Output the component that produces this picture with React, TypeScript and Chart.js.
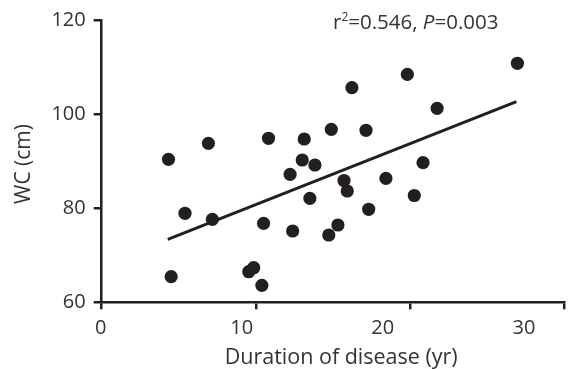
import React, { useEffect, useRef } from "react";
import { Chart, registerables } from "chart.js";

Chart.register(...registerables);

// Duration of disease (yr)
const durationYears: number[] = [
  4.81, 7.64, 11.9, 13.43, 17.81, 21.74, 16.35, 18.81, 14.43, 14.29,
  15.19, 17.25, 20.22, 29.54, 23.85, 22.85, 5.98, 7.92, 11.55, 5.0,
  10.5, 10.85, 11.43, 14.83, 17.48, 22.23, 19.0, 13.61, 16.82, 16.17,
];
// Waist circumference (cm)
const wcValues: number[] = [
  90.39, 93.79, 94.86, 87.2, 105.61, 108.46, 96.77, 96.56, 94.71, 90.24,
  89.18, 85.89, 86.35, 110.8, 101.23, 89.67, 78.92, 77.64, 76.79, 65.44,
  66.5, 67.35, 63.61, 82.1, 83.66, 82.7, 79.77, 75.15, 76.43, 74.3,
];
// Regression line end points
const fitX: number[] = [4.76, 29.47];
const fitY: number[] = [73.39, 102.64];

const xTickValues: number[] = [0, 10, 20, 30];
const xTickLabels: string[] = ["0", "10", "20", "30"];
const yTickValues: number[] = [60, 80, 100, 120];

const xTitle = "Duration of disease (yr)";
const yTitle = "WC (cm)";
const statParts: { text: string; style: string }[] = [
  { text: "r", style: "normal" },
  { text: "2", style: "sup" },
  { text: "=0.546, ", style: "normal" },
  { text: "P", style: "italic" },
  { text: "=0.003", style: "normal" },
];
// anchor points of the text items, in data units
const statAt = { x: 16.47, y: 118.1 };
const xTitleAt = 17.05;
const yTitleAt = 89.4;

const INK = "#231f20";
const TEXT = "#333333";
const FONT = "'Open Sans', sans-serif";

const textPlugin = {
  id: "textItems",
  afterDraw(chart: any) {
    const ctx = chart.ctx as CanvasRenderingContext2D;
    const xs = chart.scales.x;
    const ys = chart.scales.y;
    ctx.save();
    ctx.fillStyle = TEXT;
    // statistics
    let x = xs.getPixelForValue(statAt.x);
    const y = ys.getPixelForValue(statAt.y);
    ctx.textBaseline = "alphabetic";
    ctx.textAlign = "left";
    for (const p of statParts) {
      let dy = 0;
      if (p.style === "sup") {
        ctx.font = `12px ${FONT}`;
        dy = -8;
      } else if (p.style === "italic") {
        ctx.font = `italic 20.5px ${FONT}`;
      } else {
        ctx.font = `20.5px ${FONT}`;
      }
      ctx.fillText(p.text, x, y + dy);
      x += ctx.measureText(p.text).width;
    }
    // x title
    ctx.font = `21.5px ${FONT}`;
    ctx.textAlign = "center";
    ctx.textBaseline = "alphabetic";
    ctx.fillText(xTitle, xs.getPixelForValue(xTitleAt), chart.height - 5);
    // y title
    ctx.font = `21px ${FONT}`;
    ctx.translate(24.5, ys.getPixelForValue(yTitleAt));
    ctx.rotate(-Math.PI / 2);
    ctx.textBaseline = "middle";
    ctx.fillText(yTitle, 0, 0);
    ctx.restore();
  },
};

export default function App() {
  const ref = useRef<HTMLCanvasElement | null>(null);

  useEffect(() => {
    if (!ref.current) return;
    Chart.defaults.font.family = FONT;
    Chart.defaults.color = TEXT;
    const chart = new Chart(ref.current, {
      type: "scatter",
      data: {
        datasets: [
          {
            label: "WC",
            xAxisID: "x",
            yAxisID: "y",
            data: durationYears.map((d, i) => ({ x: d, y: wcValues[i] })),
            backgroundColor: INK,
            borderColor: INK,
            pointRadius: 6.6,
            pointHoverRadius: 6.6,
            borderWidth: 0,
          },
          {
            label: "fit",
            type: "line",
            xAxisID: "x",
            yAxisID: "y",
            data: fitX.map((d, i) => ({ x: d, y: fitY[i] })),
            borderColor: INK,
            borderWidth: 3,
            pointRadius: 0,
            fill: false,
          } as any,
        ],
      },
      options: {
        responsive: false,
        animation: false,
        events: [],
        layout: { padding: { left: 0, top: 20, right: 2.7, bottom: 0 } },
        plugins: {
          legend: { display: false },
          tooltip: { enabled: false },
        },
        scales: {
          x: {
            type: "linear",
            position: "bottom",
            weight: 1,
            min: 0.0773,
            max: 32.87,
            afterBuildTicks(scale: any) {
              scale.ticks = xTickValues.map((v) => ({ value: v }));
            },
            ticks: {
              autoSkip: false,
              maxRotation: 0,
              padding: 7.4,
              color: TEXT,
              font: { size: 20 },
              callback: (v: any) => {
                const i = xTickValues.indexOf(Number(v));
                return i >= 0 ? xTickLabels[i] : "";
              },
            },
            grid: { display: false, drawTicks: false },
            border: { display: false },
            title: { display: false },
            afterFit(scale: any) {
              scale.height = 369 - 302.3 - 7;
            },
          },
          xt: {
            type: "linear",
            axis: "x",
            position: "bottom",
            weight: 0,
            min: 0,
            max: 30,
            afterBuildTicks(scale: any) {
              scale.ticks = xTickValues.map((v) => ({ value: v }));
            },
            ticks: { display: false },
            grid: {
              drawOnChartArea: false,
              drawTicks: true,
              tickLength: 7,
              color: INK,
              lineWidth: 2.5,
            },
            border: { display: true, color: INK, width: 2.5 },
            afterFit(scale: any) {
              scale.height = 7;
            },
          },
          y: {
            type: "linear",
            position: "left",
            min: 60,
            max: 120,
            afterBuildTicks(scale: any) {
              scale.ticks = yTickValues.map((v) => ({ value: v }));
            },
            ticks: {
              padding: 8,
              color: TEXT,
              font: { size: 20 },
            },
            grid: {
              drawOnChartArea: false,
              drawTicks: true,
              tickLength: 8,
              color: INK,
              lineWidth: 2.5,
            },
            border: { display: true, color: INK, width: 2.5 },
            title: { display: false },
            afterFit(scale: any) {
              scale.width = 101.7;
            },
          },
        },
      },
      plugins: [textPlugin],
    });
    return () => chart.destroy();
  }, []);

  return (
    <div style={{ position: "fixed", left: 0, top: 0, width: 571, height: 369, background: "#fff" }}>
      <canvas ref={ref} width={571} height={369} style={{ display: "block" }} />
    </div>
  );
}
